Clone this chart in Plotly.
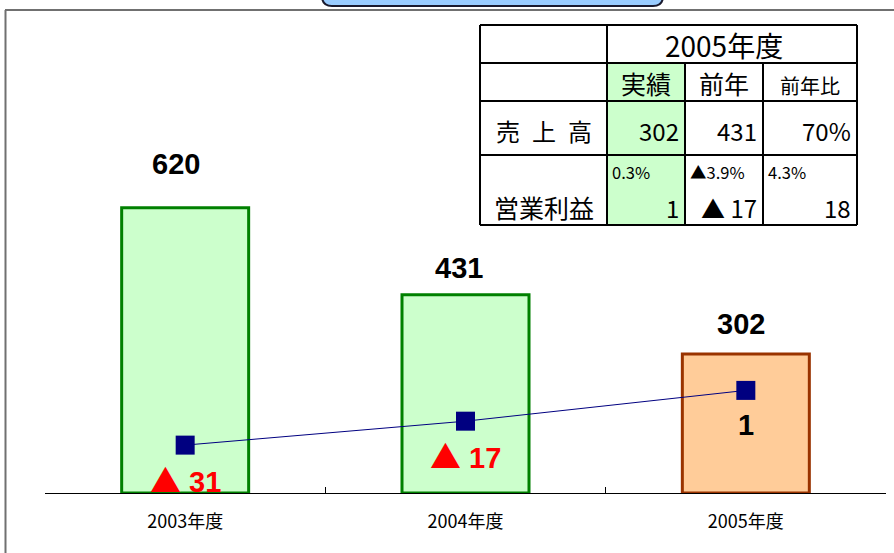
import plotly.graph_objects as go

# ---------------- data ----------------
categories = ["2003年度", "2004年度", "2005年度"]
sales = [620, 431, 302]
profit = [-31, -17, 1]

table_year = "2005年度"
table_cols = ["実績", "前年", "前年比"]
table_rows = ["売\u2002上\u2002高", "営業利益"]
table_sales = ["302", "431", "70%"]
table_profit = ["1", "▲ 17", "18"]
table_margin = ["0.3%", "▲3.9%", "4.3%"]

# ---------------- style ----------------
W, H = 894, 553
L, R, T, B = 45, 886, 33, 493  # plot area in pixels

def px(x):
    return (x - L) / (R - L)

def py(y):
    return (B - y) / (B - T)

bar_fill = ["#ccffcc", "#ccffcc", "#ffcc99"]
bar_line = ["#008000", "#008000", "#993300"]
bar_label_dy = [40, 23, 26]
bar_label_dx = [-9, -7, -5]

TF = "Noto Sans CJK JP"

def fmt_profit(v):
    if v < 0:
        return f"<span style='font-family:{TF};font-size:31px'>▲</span> {abs(v)}"
    return f"{v}"

fig = go.Figure()
fig.add_trace(go.Bar(
    x=categories, y=sales, width=0.453,
    marker=dict(color=bar_fill, line=dict(color=bar_line, width=3)),
    hoverinfo="skip", showlegend=False,
))
fig.add_trace(go.Scatter(
    x=categories, y=profit, yaxis="y2", mode="lines+markers",
    line=dict(color="#000080", width=1),
    marker=dict(symbol="square", size=19, color="#000080"),
    hoverinfo="skip", showlegend=False,
))

ann = []
for i, (c, v) in enumerate(zip(categories, sales)):
    ann.append(dict(x=c, y=v, xref="x", yref="y", text=str(v), showarrow=False,
                    yanchor="bottom", yshift=bar_label_dy[i] - 14, xshift=bar_label_dx[i],
                    font=dict(family="Liberation Sans", size=29, color="black", weight="bold")))
for i, (c, v) in enumerate(zip(categories, profit)):
    ann.append(dict(x=c, y=v, xref="x", yref="y2", text=fmt_profit(v), showarrow=False,
                    yshift=-33 if v < 0 else -35, xshift=0,
                    font=dict(family="Liberation Sans", size=29,
                              color="#ff0000" if v < 0 else "black", weight="bold")))

shapes = []
# outer frame lines
shapes.append(dict(type="line", xref="paper", yref="paper", x0=px(5), x1=px(894), y0=py(10), y1=py(10),
                   line=dict(color="#707070", width=2)))
shapes.append(dict(type="line", xref="paper", yref="paper", x0=px(5.5), x1=px(5.5), y0=py(10), y1=py(553),
                   line=dict(color="#707070", width=2)))
# rounded title box (clipped at top)
bx0, bx1, by0, by1, r = 322, 663, -20, 6, 10
path = (f"M {px(bx0)},{py(by0)} L {px(bx0)},{py(by1 - r)} "
        f"Q {px(bx0)},{py(by1)} {px(bx0 + r)},{py(by1)} "
        f"L {px(bx1 - r)},{py(by1)} Q {px(bx1)},{py(by1)} {px(bx1)},{py(by1 - r)} "
        f"L {px(bx1)},{py(by0)} Z")
shapes.append(dict(type="path", xref="paper", yref="paper", path=path,
                   fillcolor="#99ccff", line=dict(color="#1a1a2e", width=2)))

# table
cx = [480, 607, 685, 763, 857]
ry = [25, 63, 101, 155, 225]
shapes.append(dict(type="rect", xref="paper", yref="paper", x0=px(cx[0]), x1=px(cx[-1]),
                   y0=py(ry[0]), y1=py(ry[-1]), fillcolor="white", line=dict(width=0), layer="above"))
shapes.append(dict(type="rect", xref="paper", yref="paper", x0=px(cx[1]), x1=px(cx[2]),
                   y0=py(ry[1]), y1=py(ry[-1]), fillcolor="#ccffcc", line=dict(width=0), layer="above"))
lw = 2
for yv in ry:
    shapes.append(dict(type="line", xref="paper", yref="paper", x0=px(cx[0]), x1=px(cx[-1]),
                       y0=py(yv), y1=py(yv), line=dict(color="black", width=lw), layer="above"))
for i, xv in enumerate(cx):
    y_start = ry[1] if i in (2, 3) else ry[0]
    shapes.append(dict(type="line", xref="paper", yref="paper", x0=px(xv), x1=px(xv),
                       y0=py(y_start), y1=py(ry[-1]), line=dict(color="black", width=lw), layer="above"))


def tab(x, y, text, size, anchor="center"):
    ann.append(dict(x=px(x), y=py(y), xref="paper", yref="paper", text=text, showarrow=False,
                    xanchor=anchor, yanchor="middle", font=dict(family=TF, size=size, color="black")))

tab(724, 45, table_year, 28)
tab((cx[1] + cx[2]) / 2, 83, table_cols[0], 25)
tab((cx[2] + cx[3]) / 2, 83, table_cols[1], 25)
tab((cx[3] + cx[4]) / 2, 85, table_cols[2], 20)
tab((cx[0] + cx[1]) / 2, 130, table_rows[0], 24)
tab((cx[0] + cx[1]) / 2, 207, table_rows[1], 25)
for j in range(3):
    tab(cx[j + 2] - 4, 130, table_sales[j], 24, "right")
    tab(cx[j + 2] - 4, 207, table_profit[j], 24, "right")
    tab(cx[j + 1] + 3, 172, table_margin[j], 16.5, "left")

fig.update_layout(
    width=W, height=H,
    margin=dict(l=L, r=W - R, t=T, b=H - B, pad=0),
    paper_bgcolor="white", plot_bgcolor="white",
    xaxis=dict(range=[-0.5, 2.5], showline=True, linecolor="black", linewidth=1,
               ticks="inside", ticklen=6, tickcolor="black", tickson="boundaries",
               showgrid=False, zeroline=False, ticklabelstandoff=12,
               tickfont=dict(family=TF, size=18, color="black")),
    yaxis=dict(range=[0, 1000], visible=False, showgrid=False, zeroline=False),
    yaxis2=dict(range=[-59, 210], overlaying="y", visible=False, showgrid=False, zeroline=False),
    bargap=0.5,
    shapes=shapes, annotations=ann,
)

fig.write_html("out.html", config={"displayModeBar": False},
               post_script="document.body.style.margin='0';")
